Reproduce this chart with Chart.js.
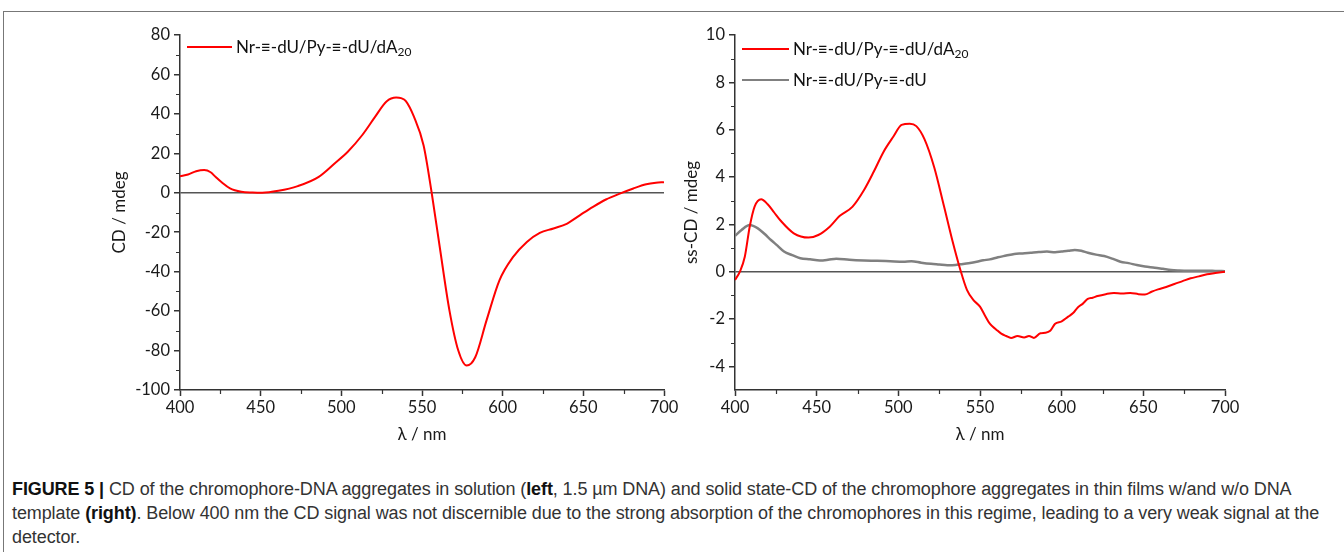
<!DOCTYPE html>
<html>
<head>
<meta charset="utf-8">
<script src="https://cdn.jsdelivr.net/npm/chart.js@4.4.1/dist/chart.umd.min.js"></script>
<style>
  body { margin: 0; width: 1344px; height: 552px; overflow: hidden; background: #fff; position: relative; }
  .frame { position: absolute; left: 3px; top: 11px; width: 1400px; height: 600px; border-top: 1px solid #777; border-left: 1px solid #777; }
  .box { position: absolute; }
  .legend { position: absolute; font-family: Lato, "Open Sans", sans-serif; font-size: 17px; color: #111; }
  .legend .row { position: absolute; left: 0; white-space: nowrap; height: 20px; }
  .legend .swatch { position: absolute; left: 0; top: 9px; height: 0; }
  .legend .txt { position: absolute; top: 0; line-height: 20px; }
  .legend sub { font-size: 12px; vertical-align: -3px; line-height: 0; }
  .caption { position: absolute; left: 12px; top: 477px; width: 1330px; font-family: "Liberation Sans", Arial, sans-serif; font-size: 18px; line-height: 24px; color: #333; white-space: nowrap; letter-spacing: -0.1px; }
  .caption b { color: #111; }
</style>
</head>
<body>
<div class="frame"></div>
<div class="box" style="left:90px;top:15px;"><canvas id="izq" width="600" height="440"></canvas></div>
<div class="box" style="left:645px;top:15px;"><canvas id="der" width="610" height="440"></canvas></div>
<div id="leyendaIzq" class="legend" style="left:187px;top:37px;"></div>
<div id="leyendaDer" class="legend" style="left:742px;top:39px;"></div>
<div class="caption"><b>FIGURE 5 |</b> CD of the chromophore-DNA aggregates in solution (<b>left</b>, 1.5 µm DNA) and solid state-CD of the chromophore aggregates in thin films w/and w/o DNA<br>template <b>(right)</b>. Below 400 nm the CD signal was not discernible due to the strong absorption of the chromophores in this regime, leading to a very weak signal at the<br>detector.</div>

<script>
// Datos
const nombreA20 = 'Nr-≡-dU/Py-≡-dU/dA<sub>20</sub>';
const nombreDU = 'Nr-≡-dU/Py-≡-dU';

// Izquierda: CD en solución
const lambdaIzq = [400, 405, 410, 415, 419, 422, 426, 431, 438, 445, 451, 461, 473, 486, 496, 504, 513, 521, 528, 534, 537, 540, 545, 551, 556, 561, 567, 572.5, 577.7, 583, 590, 598, 606.5, 615, 623, 631.5, 640, 648, 656, 664, 673, 681, 689, 695, 700];
const cdIzq = [8.4, 9.3, 10.9, 11.5, 10.4, 8.1, 5.2, 2.2, 0.5, 0.1, 0, 1, 3.4, 8.1, 15, 20.8, 29.3, 38.6, 46.3, 48.3, 48, 46.5, 38.6, 24, 0, -27.5, -59.6, -80, -87.6, -83.4, -64.7, -44.4, -32.5, -24.9, -20.3, -18.1, -15.6, -11.3, -7.1, -3.4, -0.3, 2.2, 4.3, 5.1, 5.4];

// Derecha: ss-CD, con DNA (rojo)
const lambdaRojo = [400, 403, 406, 409, 412, 416, 420, 424, 428, 436, 445, 451, 458, 464, 472, 479, 485, 491, 497, 502, 507, 511, 516, 522, 528, 533, 538, 542, 546, 550, 553, 556, 560, 563, 566, 569, 573, 577, 580, 583, 587, 590, 593, 596, 600, 604, 607, 610, 613, 616, 619, 622, 627, 632, 637, 642, 647, 651, 655, 659, 664, 669, 674, 679, 684, 689, 694, 700];
const ssRojo = [-0.35, 0, 0.63, 1.9, 2.75, 3.06, 2.85, 2.5, 2.15, 1.62, 1.44, 1.55, 1.9, 2.35, 2.75, 3.45, 4.23, 5.07, 5.71, 6.2, 6.25, 6.15, 5.6, 4.4, 2.75, 1.34, 0.07, -0.77, -1.2, -1.48, -1.85, -2.2, -2.45, -2.62, -2.72, -2.8, -2.72, -2.78, -2.72, -2.8, -2.6, -2.58, -2.5, -2.2, -2.1, -1.9, -1.75, -1.5, -1.35, -1.15, -1.1, -1.03, -0.95, -0.9, -0.92, -0.9, -0.95, -0.97, -0.85, -0.75, -0.65, -0.52, -0.4, -0.28, -0.2, -0.11, -0.06, 0];

// Derecha: ss-CD, sin DNA (gris)
const lambdaGris = [400, 404, 409, 414, 418, 422, 426, 430, 435, 440, 446, 452, 457, 462, 470, 479, 487, 495, 503, 508, 514, 520, 525, 530, 535, 538, 543, 548, 552, 556, 561, 566, 571, 576, 581, 586, 591, 596, 600, 604, 608, 612, 616, 621, 626, 631, 636, 641, 646, 651, 657, 662, 667, 672, 677, 683, 689, 694, 700];
const ssGris = [1.51, 1.76, 1.97, 1.83, 1.6, 1.34, 1.1, 0.85, 0.7, 0.57, 0.52, 0.47, 0.5, 0.55, 0.5, 0.47, 0.46, 0.44, 0.42, 0.44, 0.38, 0.33, 0.3, 0.27, 0.28, 0.31, 0.36, 0.42, 0.48, 0.52, 0.61, 0.68, 0.75, 0.77, 0.8, 0.83, 0.85, 0.82, 0.85, 0.88, 0.92, 0.88, 0.8, 0.72, 0.66, 0.55, 0.42, 0.36, 0.28, 0.22, 0.17, 0.12, 0.07, 0.05, 0.04, 0.04, 0.04, 0.03, 0.02];

// Etiquetas de los ejes
const ticksX = [400, 450, 500, 550, 600, 650, 700];
const ticksIzq = [-100, -80, -60, -40, -20, 0, 20, 40, 60, 80];
const ticksDer = [-4, -2, 0, 2, 4, 6, 8, 10];

const fuente = 'Lato, "Open Sans", sans-serif';
const colorEje = '#333';

function puntos(xs, ys) {
  return xs.map((x, i) => ({ x: x, y: ys[i] }));
}

// Marcas menores a medio paso de cada marca principal
const marcasMenores = {
  id: 'marcasMenores',
  afterDraw(chart, args, opts) {
    const { ctx } = chart;
    const sx = chart.scales.x, sy = chart.scales.y;
    ctx.save();
    ctx.strokeStyle = colorEje;
    ctx.lineWidth = 1.2;
    ctx.beginPath();
    ticksX.forEach(t => {
      const v = t - opts.pasoX;
      if (v <= sx.min) return;
      const px = Math.round(sx.getPixelForValue(v)) + 0.5;
      ctx.moveTo(px, sy.bottom);
      ctx.lineTo(px, sy.bottom + 4);
    });
    opts.ticksY.forEach(t => {
      const v = t - opts.pasoY;
      if (v <= sy.min) return;
      const py = Math.round(sy.getPixelForValue(v)) + 0.5;
      ctx.moveTo(sx.left, py);
      ctx.lineTo(sx.left - 4, py);
    });
    ctx.stroke();
    ctx.restore();
  }
};

function opciones(minY, maxY, ticksY, pasoY, tituloY, padTitulo, padDer) {
  return {
    responsive: false,
    animation: false,
    devicePixelRatio: 1,
    layout: { padding: { top: 20, right: padDer, left: 0, bottom: 0 } },
    plugins: {
      legend: { display: false },
      tooltip: { enabled: false },
      marcasMenores: { pasoX: 25, pasoY: pasoY, ticksY: ticksY }
    },
    elements: { point: { radius: 0 } },
    scales: {
      x: {
        type: 'linear',
        min: 400, max: 700,
        afterFit(scale) { scale.height = 65; },
        afterBuildTicks(scale) { scale.ticks = ticksX.map(v => ({ value: v })); },
        border: { display: true, color: colorEje, width: 1.5 },
        grid: { drawOnChartArea: false, drawTicks: true, tickLength: 6, tickColor: colorEje, tickWidth: 1.5 },
        ticks: { color: '#1a1a1a', font: { family: fuente, size: 16.5 }, padding: 2, maxRotation: 0 },
        title: { display: true, text: 'λ / nm', color: '#1a1a1a', font: { family: fuente, size: 17 }, padding: { top: 4, bottom: 10 } }
      },
      y: {
        min: minY, max: maxY,
        afterFit(scale) { scale.width = 90; },
        afterBuildTicks(scale) { scale.ticks = ticksY.map(v => ({ value: v })); },
        border: { display: true, color: colorEje, width: 1.5 },
        grid: {
          drawOnChartArea: true,
          drawTicks: true,
          tickLength: 6,
          tickColor: colorEje,
          tickWidth: 1.5,
          lineWidth: 1.5,
          color: c => (c.tick && c.tick.value === 0) ? '#555' : 'rgba(0,0,0,0)'
        },
        ticks: { color: '#1a1a1a', font: { family: fuente, size: 16.5 }, padding: 4 },
        title: { display: true, text: tituloY, color: '#1a1a1a', font: { family: fuente, size: 17 }, padding: { top: padTitulo, bottom: 0 } }
      }
    }
  };
}

const graficaIzq = new Chart(document.getElementById('izq'), {
  type: 'line',
  data: {
    datasets: [{
      label: nombreA20,
      data: puntos(lambdaIzq, cdIzq),
      borderColor: '#ff0000',
      borderWidth: 2,
      cubicInterpolationMode: 'monotone'
    }]
  },
  options: opciones(-100, 80, ticksIzq, 10, 'CD / mdeg', 19, 26),
  plugins: [marcasMenores]
});

const graficaDer = new Chart(document.getElementById('der'), {
  type: 'line',
  data: {
    datasets: [{
      label: nombreA20,
      data: puntos(lambdaRojo, ssRojo),
      borderColor: '#ff0000',
      borderWidth: 2,
      cubicInterpolationMode: 'monotone'
    }, {
      label: nombreDU,
      data: puntos(lambdaGris, ssGris),
      borderColor: '#808080',
      borderWidth: 2.5,
      cubicInterpolationMode: 'monotone'
    }]
  },
  options: opciones(-5, 10, ticksDer, 1, 'ss-CD / mdeg', 36, 30),
  plugins: [marcasMenores]
});

// Leyenda en HTML para poder usar subíndices
function leyenda(chart, idCaja, largo, separacion) {
  const caja = document.getElementById(idCaja);
  chart.data.datasets.forEach((ds, i) => {
    const fila = document.createElement('div');
    fila.className = 'row';
    fila.style.top = (i * separacion) + 'px';
    const linea = document.createElement('span');
    linea.className = 'swatch';
    linea.style.width = largo + 'px';
    linea.style.borderTop = ds.borderWidth + 'px solid ' + ds.borderColor;
    const texto = document.createElement('span');
    texto.className = 'txt';
    texto.style.left = (largo + 4) + 'px';
    texto.innerHTML = ds.label;
    fila.appendChild(linea);
    fila.appendChild(texto);
    caja.appendChild(fila);
  });
}

leyenda(graficaIzq, 'leyendaIzq', 45, 31);
leyenda(graficaDer, 'leyendaDer', 47, 31);
</script>
</body>
</html>
